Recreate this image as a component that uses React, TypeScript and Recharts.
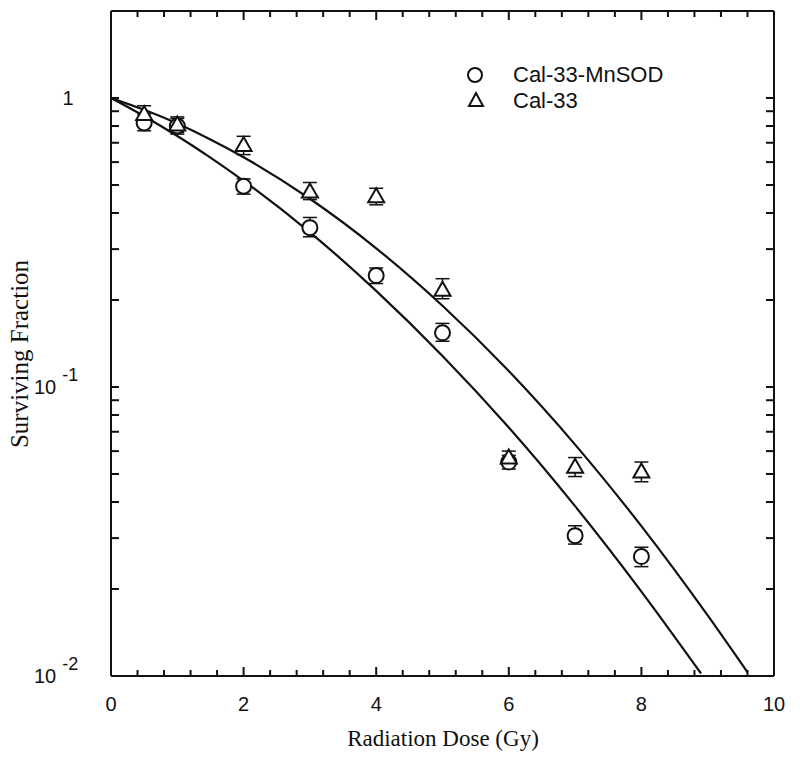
import React from 'react';
import { ComposedChart, Line, Scatter, ErrorBar, XAxis, YAxis, ReferenceLine } from 'recharts';

// measured dose points (Gy)
const doses = [0.5, 1, 2, 3, 4, 5, 6, 7, 8];

const mnsodSurvival = [0.82, 0.8, 0.495, 0.356, 0.243, 0.154, 0.055, 0.0306, 0.0259];
const mnsodErrLow = [0.05, 0.05, 0.03, 0.025, 0.015, 0.01, 0.003, 0.002, 0.002];
const mnsodErrHigh = [0.06, 0.05, 0.03, 0.03, 0.015, 0.012, 0.003, 0.0025, 0.002];

const cal33Survival = [0.88, 0.81, 0.687, 0.475, 0.457, 0.217, 0.057, 0.053, 0.051];
const cal33ErrLow = [0.05, 0.05, 0.05, 0.03, 0.03, 0.015, 0.003, 0.004, 0.004];
const cal33ErrHigh = [0.06, 0.05, 0.05, 0.035, 0.03, 0.02, 0.003, 0.004, 0.004];

// fitted curves
const mnsodFitDose = [0, 0.5, 1, 1.5, 2, 3, 4, 5, 6, 7, 8, 8.9];
const mnsodFit = [1, 0.865, 0.739, 0.622, 0.517, 0.343, 0.215, 0.128, 0.0724, 0.0387, 0.0196, 0.0102];
const cal33FitDose = [0, 0.5, 1, 1.5, 2, 3, 4, 5, 6, 7, 8, 9, 9.6];
const cal33Fit = [1, 0.91, 0.816, 0.719, 0.624, 0.448, 0.302, 0.191, 0.1135, 0.0632, 0.033, 0.0162, 0.0103];

const doseTicks = [0, 0.4, 0.8, 1.2, 1.6, 2, 2.4, 2.8, 3.2, 3.6, 4, 4.4, 4.8, 5.2, 5.6, 6, 6.4, 6.8, 7.2, 7.6, 8, 8.4, 8.8, 9.2, 9.6, 10];
const doseLabels = [0, 2, 4, 6, 8, 10];
const survivalTicks = [0.01, 0.02, 0.03, 0.04, 0.05, 0.06, 0.07, 0.08, 0.09, 0.1, 0.2, 0.3, 0.4, 0.5, 0.6, 0.7, 0.8, 0.9, 1];

const W = 800;
const H = 760;
const PLOT = { left: 111, right: 774, top: 11, bottom: 676 };
const INK = '#111';
const SANS = '"Liberation Sans", Arial, Helvetica, sans-serif';
const SERIF = '"Liberation Serif", "Times New Roman", serif';

const mnsodPoints = doses.map((x, i) => ({ x, s: mnsodSurvival[i], err: [mnsodErrLow[i], mnsodErrHigh[i]] }));
const cal33Points = doses.map((x, i) => ({ x, s: cal33Survival[i], err: [cal33ErrLow[i], cal33ErrHigh[i]] }));
const mnsodCurve = mnsodFitDose.map((x, i) => ({ x, s: mnsodFit[i] }));
const cal33Curve = cal33FitDose.map((x, i) => ({ x, s: cal33Fit[i] }));

const CircleMark = (p: any) => (
  <circle cx={p.cx} cy={p.cy} r={7.5} fill="#fff" stroke={INK} strokeWidth={2} />
);

const TriangleMark = (p: any) => (
  <polygon
    points={`${p.cx},${p.cy - 8} ${p.cx - 8},${p.cy + 6} ${p.cx + 8},${p.cy + 6}`}
    fill="#fff"
    stroke={INK}
    strokeWidth={2}
  />
);

function DoseTick(props: any) {
  const v = props.payload.value;
  const x = props.x;
  const major = doseLabels.some((d) => Math.abs(d - v) < 1e-6);
  const len = major ? 9 : 6;
  return (
    <g>
      <line x1={x} x2={x} y1={PLOT.bottom} y2={PLOT.bottom - len} stroke={INK} strokeWidth={2} />
      <line x1={x} x2={x} y1={PLOT.top} y2={PLOT.top + len} stroke={INK} strokeWidth={2} />
      {major && (
        <text x={x} y={711} textAnchor="middle" fontSize={20} fontFamily={SANS} fill={INK}>
          {Math.round(v)}
        </text>
      )}
    </g>
  );
}

function SurvivalTick(props: any) {
  const v = props.payload.value;
  const y = props.y;
  let label = null;
  if (v === 1) {
    label = (
      <text x={68} y={y + 7} textAnchor="middle" fontSize={20} fontFamily={SANS} fill={INK}>
        1
      </text>
    );
  } else if (v === 0.1 || v === 0.01) {
    label = (
      <text x={34} y={y + 7} fontSize={20} fontFamily={SANS} fill={INK}>
        10
        <tspan dx={6} dy={-13} fontSize={18}>
          {v === 0.1 ? '-1' : '-2'}
        </tspan>
      </text>
    );
  }
  return (
    <g>
      <line x1={PLOT.left} x2={PLOT.left + 8} y1={y} y2={y} stroke={INK} strokeWidth={2} />
      <line x1={PLOT.right - 8} x2={PLOT.right} y1={y} y2={y} stroke={INK} strokeWidth={2} />
      {label}
    </g>
  );
}

export default function App() {
  return (
    <div style={{ position: 'absolute', left: 0, top: 0, width: W, height: H, background: '#fff' }}>
      <ComposedChart
        width={W}
        height={H}
        margin={{ top: PLOT.top, right: W - PLOT.right, bottom: 0, left: 0 }}
      >
        <XAxis
          dataKey="x"
          type="number"
          domain={[0, 10]}
          ticks={doseTicks}
          interval={0}
          height={H - PLOT.bottom}
          tickSize={0}
          tickMargin={0}
          tickLine={false}
          tick={<DoseTick />}
          axisLine={{ stroke: INK, strokeWidth: 2 }}
          allowDataOverflow
        />
        <YAxis
          dataKey="s"
          type="number"
          scale="log"
          domain={[0.01, 2]}
          ticks={survivalTicks}
          interval={0}
          width={PLOT.left}
          tickSize={0}
          tickMargin={0}
          tickLine={false}
          tick={<SurvivalTick />}
          axisLine={{ stroke: INK, strokeWidth: 2 }}
          allowDataOverflow
        />
        <ReferenceLine y={2} stroke={INK} strokeWidth={2} />
        <ReferenceLine x={10} stroke={INK} strokeWidth={2} />
        <Line
          data={mnsodCurve}
          dataKey="s"
          type="monotone"
          stroke={INK}
          strokeWidth={2.2}
          dot={false}
          isAnimationActive={false}
        />
        <Line
          data={cal33Curve}
          dataKey="s"
          type="monotone"
          stroke={INK}
          strokeWidth={2.2}
          dot={false}
          isAnimationActive={false}
        />
        <Scatter data={mnsodPoints} dataKey="s" shape={CircleMark} isAnimationActive={false}>
          <ErrorBar dataKey="err" direction="y" width={7} stroke={INK} strokeWidth={1.5} />
        </Scatter>
        <Scatter data={cal33Points} dataKey="s" shape={TriangleMark} isAnimationActive={false}>
          <ErrorBar dataKey="err" direction="y" width={7} stroke={INK} strokeWidth={1.5} />
        </Scatter>
      </ComposedChart>
      <svg
        width={W}
        height={H}
        style={{ position: 'absolute', left: 0, top: 0, pointerEvents: 'none' }}
      >
        <circle cx={475} cy={75} r={7} fill="#fff" stroke={INK} strokeWidth={2} />
        <text x={513} y={82} fontSize={22} fontFamily={SANS} fill={INK}>
          Cal-33-MnSOD
        </text>
        <polygon points="476,93 469,106 483,106" fill="#fff" stroke={INK} strokeWidth={2} />
        <text x={513} y={108} fontSize={22} fontFamily={SANS} fill={INK}>
          Cal-33
        </text>
        <text x={443} y={746} textAnchor="middle" fontSize={23} fontFamily={SERIF} fill={INK}>
          Radiation Dose (Gy)
        </text>
        <text
          x={0}
          y={0}
          transform="translate(28,354) rotate(-90)"
          textAnchor="middle"
          fontSize={25}
          fontFamily={SERIF}
          fill={INK}
        >
          Surviving Fraction
        </text>
      </svg>
    </div>
  );
}
